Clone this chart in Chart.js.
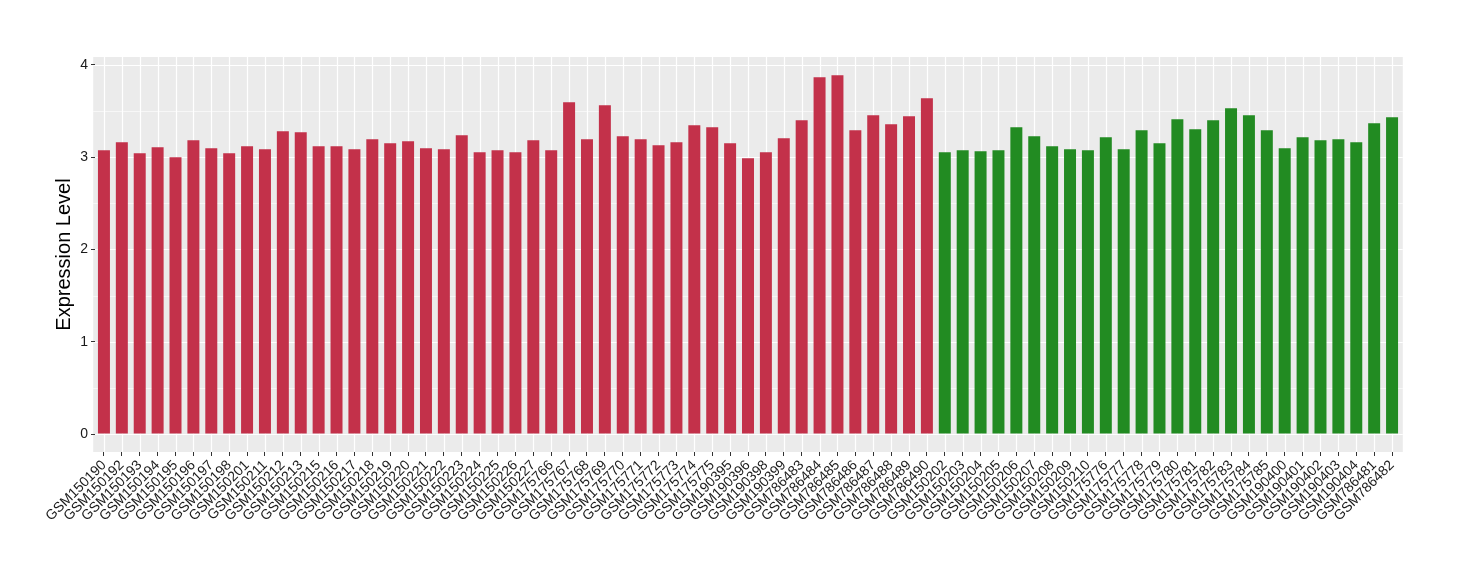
<!DOCTYPE html>
<html>
<head>
<meta charset="utf-8">
<script src="https://cdn.jsdelivr.net/npm/chart.js@4/dist/chart.umd.min.js"></script>
<style>
html,body{margin:0;padding:0;background:#fff;}
#wrap{width:1460px;height:580px;position:relative;}
</style>
</head>
<body>
<div id="wrap"><canvas id="c" width="1460" height="580"></canvas></div>
<script>
const redSamples = ["GSM150190","GSM150192","GSM150193","GSM150194","GSM150195","GSM150196","GSM150197","GSM150198","GSM150201","GSM150211","GSM150212","GSM150213","GSM150215","GSM150216","GSM150217","GSM150218","GSM150219","GSM150220","GSM150221","GSM150222","GSM150223","GSM150224","GSM150225","GSM150226","GSM150227","GSM175766","GSM175767","GSM175768","GSM175769","GSM175770","GSM175771","GSM175772","GSM175773","GSM175774","GSM175775","GSM190395","GSM190396","GSM190398","GSM190399","GSM786483","GSM786484","GSM786485","GSM786486","GSM786487","GSM786488","GSM786489","GSM786490"];
const redValues = [3.076,3.162,3.043,3.108,3.000,3.184,3.097,3.043,3.119,3.087,3.282,3.271,3.119,3.119,3.087,3.195,3.152,3.173,3.097,3.087,3.238,3.054,3.076,3.054,3.184,3.076,3.596,3.195,3.563,3.227,3.195,3.130,3.162,3.347,3.325,3.152,2.989,3.054,3.206,3.401,3.866,3.888,3.292,3.455,3.357,3.444,3.639];
const greenSamples = ["GSM150202","GSM150203","GSM150204","GSM150205","GSM150206","GSM150207","GSM150208","GSM150209","GSM150210","GSM175776","GSM175777","GSM175778","GSM175779","GSM175780","GSM175781","GSM175782","GSM175783","GSM175784","GSM175785","GSM190400","GSM190401","GSM190402","GSM190403","GSM190404","GSM786481","GSM786482"];
const greenValues = [3.054,3.076,3.065,3.076,3.325,3.227,3.119,3.087,3.076,3.217,3.087,3.292,3.152,3.412,3.303,3.401,3.531,3.455,3.292,3.097,3.217,3.184,3.195,3.162,3.368,3.433];
const yTickValues = [0,1,2,3,4];
const yMinorValues = [0.5,1.5,2.5,3.5];
const yAxisTitle = "Expression Level";

const RED = "#C3314A";
const GREEN = "#228B22";
const labels = redSamples.concat(greenSamples);
const values = redValues.concat(greenValues);
const colors = redSamples.map(()=>RED).concat(greenSamples.map(()=>GREEN));

const panelPlugin = {
  id: 'panel',
  beforeDraw(chart) {
    const {ctx, chartArea: a, scales} = chart;
    const x = scales.x, y = scales.y;
    const unit = (a.right - a.left) / labels.length;
    const L = a.left - 0.1 * unit, R = a.right + 0.1 * unit;
    ctx.save();
    ctx.fillStyle = '#EBEBEB';
    ctx.fillRect(L, a.top, R - L, a.bottom - a.top);
    ctx.strokeStyle = '#FFFFFF';
    ctx.lineWidth = 0.6;
    yMinorValues.forEach(v => {
      const py = Math.round(y.getPixelForValue(v)) + 0.5;
      ctx.beginPath(); ctx.moveTo(L, py); ctx.lineTo(R, py); ctx.stroke();
    });
    ctx.lineWidth = 1.2;
    yTickValues.forEach(v => {
      const py = Math.round(y.getPixelForValue(v)) + 0.5;
      ctx.beginPath(); ctx.moveTo(L, py); ctx.lineTo(R, py); ctx.stroke();
    });
    labels.forEach((lab, i) => {
      const px = Math.round(x.getPixelForValue(i)) + 0.5;
      ctx.beginPath(); ctx.moveTo(px, a.top); ctx.lineTo(px, a.bottom); ctx.stroke();
    });
    ctx.restore();
  }
};

new Chart(document.getElementById('c'), {
  type: 'bar',
  data: {
    labels: labels,
    datasets: [{
      data: values,
      backgroundColor: colors,
      borderWidth: 0,
      categoryPercentage: 1.0,
      barPercentage: 0.67
    }]
  },
  options: {
    responsive: false,
    animation: false,
    devicePixelRatio: 1,
    layout: { padding: { top: 57, right: 59, left: 0, bottom: 0 } },
    plugins: { legend: { display: false }, tooltip: { enabled: false } },
    scales: {
      x: {
        type: 'category',
        offset: true,
        border: { display: false },
        grid: { offset: false, drawOnChartArea: false, drawTicks: true, tickLength: 4, tickColor: '#333333', lineWidth: 1 },
        ticks: {
          autoSkip: false, maxRotation: 45, minRotation: 45, padding: 1,
          color: '#1A1A1A', font: { family: 'Liberation Sans, Arial, sans-serif', size: 14 }
        },
        afterFit(scale) { scale.height = 128; }
      },
      y: {
        min: -0.195, max: 4.086,
        border: { display: false },
        afterBuildTicks(scale) { scale.ticks = yTickValues.map(v => ({ value: v })); },
        grid: { drawOnChartArea: false, drawTicks: true, tickLength: 4, tickColor: '#333333', lineWidth: 1 },
        ticks: {
          padding: 3, color: '#1A1A1A',
          font: { family: 'Liberation Sans, Arial, sans-serif', size: 14 },
          callback: v => String(v)
        },
        title: {
          display: true, text: yAxisTitle, color: '#000000',
          font: { family: 'Liberation Sans, Arial, sans-serif', size: 20 },
          padding: { top: 52, bottom: 0 }
        },
        afterFit(scale) { scale.width = 95; }
      }
    }
  },
  plugins: [panelPlugin]
});
</script>
</body>
</html>
